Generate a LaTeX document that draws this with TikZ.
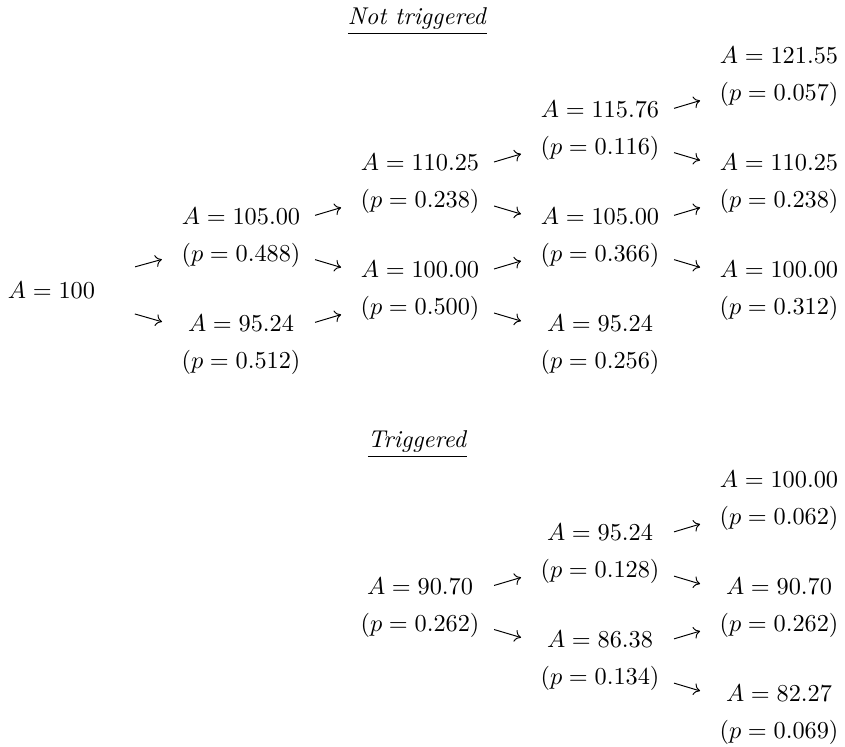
\documentclass[tikz,border=0pt]{standalone}
\usetikzlibrary{arrows.meta}
\begin{document}
\begin{tikzpicture}[x=0.41152pt, y=-0.41152pt,
  state/.style={align=center, inner sep=0pt},
  title/.style={anchor=base, inner sep=0pt},
  br/.style={-{To[length=2.6pt,width=5pt]}, shorten <=31.8pt, shorten >=33.9pt},
  brroot/.style={br, shorten <=35.7pt, shorten >=33.8pt}]
\useasboundingbox (0,0) rectangle (845,747);
% not triggered
\node[title] (title1) at (417.5,25) {\underline{\textit{Not triggered}}};
\node[state] (s0) at (51.5,290) {$A = 100$};
\node[state] (s1a) at (241,237.5) {$A = 105.00$\\[3.4pt]$(p = 0.488)$};
\node[state] (s1b) at (241,344.5) {$A = 95.24$\\[3.4pt]$(p = 0.512)$};
\node[state] (s2a) at (420,184) {$A = 110.25$\\[3.4pt]$(p = 0.238)$};
\node[state] (s2b) at (420,291) {$A = 100.00$\\[3.4pt]$(p = 0.500)$};
\node[state] (s3a) at (600,130.5) {$A = 115.76$\\[3.4pt]$(p = 0.116)$};
\node[state] (s3b) at (600,237.5) {$A = 105.00$\\[3.4pt]$(p = 0.366)$};
\node[state] (s3c) at (600,344.5) {$A = 95.24$\\[3.4pt]$(p = 0.256)$};
\node[state] (s4a) at (779,77) {$A = 121.55$\\[3.4pt]$(p = 0.057)$};
\node[state] (s4b) at (779,184) {$A = 110.25$\\[3.4pt]$(p = 0.238)$};
\node[state] (s4c) at (779,291) {$A = 100.00$\\[3.4pt]$(p = 0.312)$};
\draw[brroot] (s0.center) -- (s1a.center);
\draw[brroot] (s0.center) -- (s1b.center);
\draw[br] (s1a.center) -- (s2a.center);
\draw[br] (s1a.center) -- (s2b.center);
\draw[br] (s1b.center) -- (s2b.center);
\draw[br] (s2a.center) -- (s3a.center);
\draw[br] (s2a.center) -- (s3b.center);
\draw[br] (s2b.center) -- (s3b.center);
\draw[br] (s2b.center) -- (s3c.center);
\draw[br] (s3a.center) -- (s4a.center);
\draw[br] (s3a.center) -- (s4b.center);
\draw[br] (s3b.center) -- (s4b.center);
\draw[br] (s3b.center) -- (s4c.center);
% triggered
\node[title] (title2) at (417.5,448) {\underline{\textit{Triggered}}};
\node[state] (t2) at (420,607.5) {$A = 90.70$\\[3.4pt]$(p = 0.262)$};
\node[state] (t3a) at (600,554) {$A = 95.24$\\[3.4pt]$(p = 0.128)$};
\node[state] (t3b) at (600,661) {$A = 86.38$\\[3.4pt]$(p = 0.134)$};
\node[state] (t4a) at (779,500.5) {$A = 100.00$\\[3.4pt]$(p = 0.062)$};
\node[state] (t4b) at (779,607.5) {$A = 90.70$\\[3.4pt]$(p = 0.262)$};
\node[state] (t4c) at (779,714.5) {$A = 82.27$\\[3.4pt]$(p = 0.069)$};
\draw[br] (t2.center) -- (t3a.center);
\draw[br] (t2.center) -- (t3b.center);
\draw[br] (t3a.center) -- (t4a.center);
\draw[br] (t3a.center) -- (t4b.center);
\draw[br] (t3b.center) -- (t4b.center);
\draw[br] (t3b.center) -- (t4c.center);
\end{tikzpicture}
\end{document}
